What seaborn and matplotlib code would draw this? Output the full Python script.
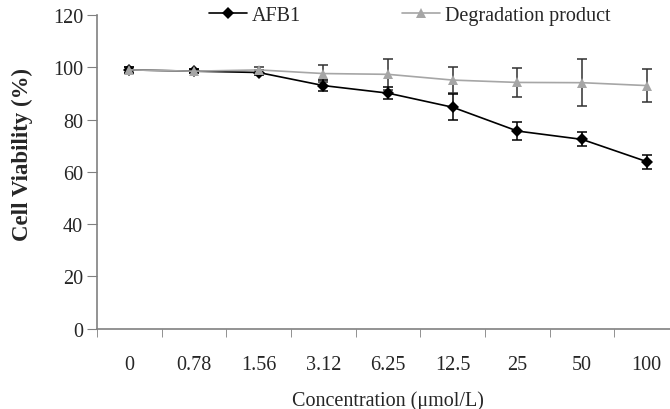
import pandas as pd
import matplotlib
matplotlib.use("Agg")
import matplotlib.pyplot as plt
import numpy as np
import seaborn as sns

# concentrations (umol/L) shown as categories
conc = ["0", "0.78", "1.56", "3.12", "6.25", "12.5", "25", "50", "100"]

afb1 = [99.0, 98.5, 98.0, 93.0, 90.1, 84.7, 75.6, 72.4, 63.9]
afb1_err = [1.0, 0.8, 1.0, 2.0, 2.2, 5.0, 3.6, 2.7, 2.7]

degr = [99.0, 98.5, 99.0, 97.6, 97.3, 95.1, 94.2, 94.1, 93.0]
degr_err = [1.0, 0.8, 1.2, 3.3, 6.0, 5.0, 5.4, 9.0, 6.2]

sns.set_style("ticks")
plt.rcParams["font.family"] = ["Liberation Serif", "DejaVu Serif"]

x = np.arange(len(conc))
df = pd.DataFrame({"pos": x, "afb1": afb1, "degr": degr})

fig = plt.figure(figsize=(6.7, 4.1), dpi=100)
ax = fig.add_axes([0.1448, 0.1963, 0.8687, 0.7646])

# error bars first, so markers sit on top
ax.errorbar(x, degr, yerr=degr_err, fmt="none", ecolor="#303030", elinewidth=1.1, capsize=3.3, capthick=1.1, zorder=2)
ax.errorbar(x, afb1, yerr=afb1_err, fmt="none", ecolor="black", elinewidth=1.1, capsize=3.3, capthick=1.1, zorder=2)

sns.lineplot(data=df, x="pos", y="afb1", color="black", marker="D", markersize=5.8,
             markeredgewidth=0, linewidth=1.2, label="AFB1", ax=ax, zorder=3)
sns.lineplot(data=df, x="pos", y="degr", color="#a6a6a6", marker="^", markersize=7.5,
             markeredgewidth=0, linewidth=1.2, label="Degradation product", ax=ax, zorder=3)

ax.set_xlim(-0.5, len(conc) - 0.5)
ax.set_ylim(0, 120)
ax.set_yticks(range(0, 121, 20))
ax.set_xticks(x)
ax.set_xticklabels(conc)
ax.set_xticks(np.arange(-0.5, len(conc), 1.0), minor=True)
ax.tick_params(axis="x", which="major", length=0, pad=19, labelsize=14.5)
ax.tick_params(axis="x", which="minor", length=6, color="#808080", direction="out")
ax.tick_params(axis="y", length=7, color="#808080", labelsize=14.5, pad=3)

for side in ["top", "right"]:
    ax.spines[side].set_visible(False)
for side in ["left", "bottom"]:
    ax.spines[side].set_color("#808080")
    ax.spines[side].set_linewidth(1.2)

ax.set_xlabel("Concentration (\u03bcmol/L)", fontsize=14.5, labelpad=12)
ax.set_ylabel("Cell Viability (%)", fontsize=16.5, fontweight="bold")
ax.yaxis.set_label_coords(-0.11, 0.557)

ax.legend(loc="center", bbox_to_anchor=(0.537, 1.0), ncol=2, frameon=False,
          fontsize=14.5, handlelength=1.9, handletextpad=0.25, columnspacing=5.0)

plt.savefig("out.png", dpi=100)
